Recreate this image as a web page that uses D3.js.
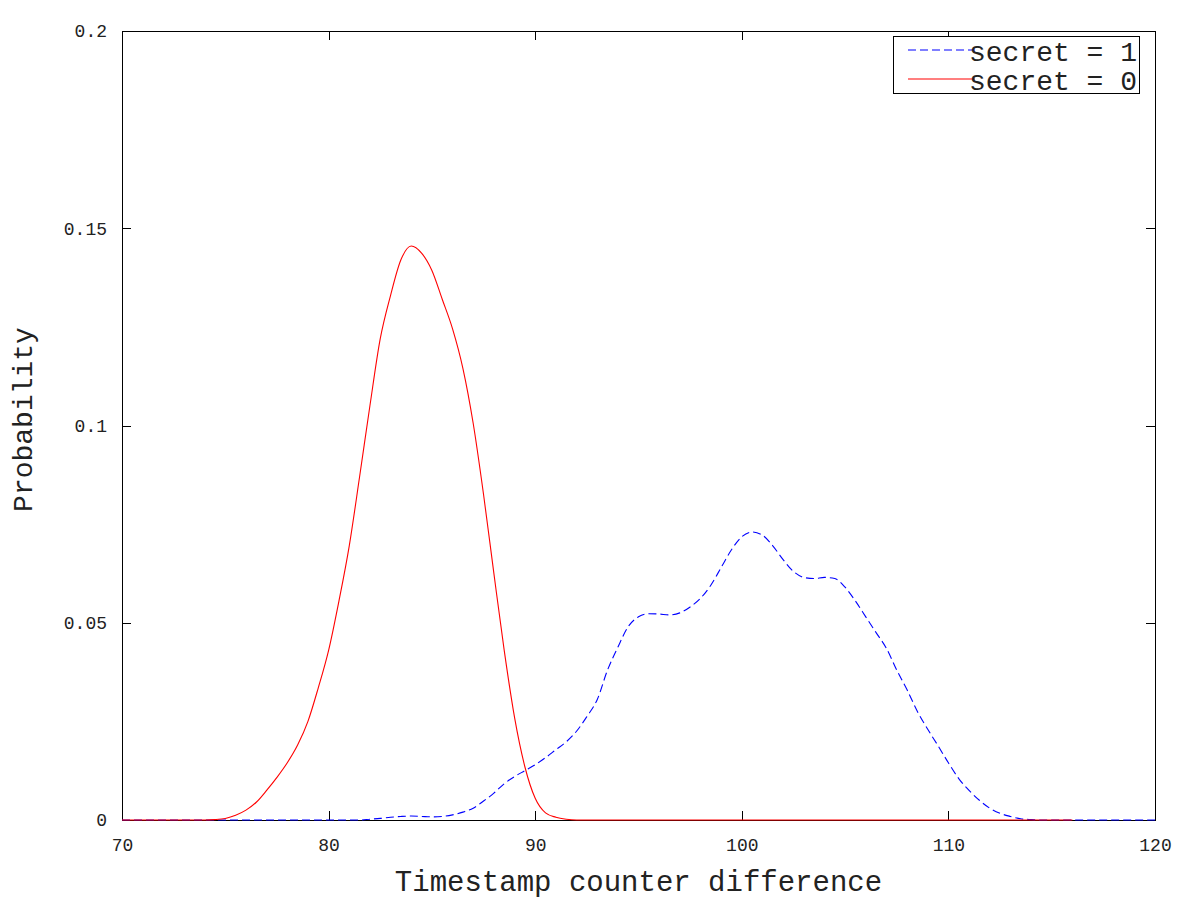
<!DOCTYPE html>
<html>
<head>
<meta charset="utf-8">
<script src="https://cdn.jsdelivr.net/npm/d3@7"></script>
<style>
  html, body { margin: 0; padding: 0; background: #fff; }
  svg { display: block; }
  text { font-family: "Liberation Mono", "Courier New", monospace; fill: #222; }
</style>
</head>
<body>
<script>
// ---- data ----
const xStart = 70, xStep = 0.5;
const secret0 = [
  0,0,0,0,0,0,0,0,0,               // 70 - 74
  0.0001,0.0004,0.0012,0.0025,0.0045,0.0075,0.0108,0.0145,0.019,0.025,0.0335, // 74.5 - 79.5
  0.043,0.0555,0.0695,0.087,0.105,0.122,0.133,0.142,0.1455,0.1437,0.1393,0.132, // 80 - 85.5
  0.1245,0.1145,0.1005,0.0825,0.0625,0.043,0.026,0.0135,0.0055,0.0018,0.0007,0.0002, // 86 - 91.5
  0,0,0,0,0,0,0,0,0,0,0,0,0,0,0,0,0,0,0,0,0,0,0,0,0,0,0,0,0,0,0,0,0,0,0,0,0,0,0,0,0,0,0,0,0,0,0,0,0 // 92 - 120
];
const secret1 = [
  0,0,0,0,0,0,0,0,0,0,0,0,0,0,0,0,0,0,0,0,0,0,0,0,   // 70 - 81.5
  0.0002,0.0004,0.0007,0.0009,0.001,0.0009,0.0008,0.0009,0.0013,0.002,0.003,0.0048, // 82 - 87.5
  0.0068,0.0092,0.011,0.0125,0.014,0.0158,0.0178,0.0198,0.0225,0.0262,0.0305,0.038, // 88 - 93.5
  0.0438,0.049,0.0515,0.0523,0.0522,0.052,0.0525,0.054,0.0562,0.0595,0.064,0.0685, // 94 - 99.5
  0.0718,0.073,0.0722,0.0695,0.066,0.063,0.0615,0.0612,0.0615,0.0612,0.059,0.0555, // 100 - 105.5
  0.0515,0.0475,0.0435,0.038,0.033,0.0275,0.023,0.0188,0.0145,0.0105,0.0075,0.005, // 106 - 111.5
  0.003,0.0017,0.0009,0.0003,0.0001,                                             // 112 - 114
  0,0,0,0,0,0,0,0,0,0,0,0                                                        // 114.5 - 120
];
const xTicks = [70, 80, 90, 100, 110, 120];
const yTicks = [0, 0.05, 0.1, 0.15, 0.2];
const yTickLabels = ["0", "0.05", "0.1", "0.15", "0.2"];
const legendLabels = ["secret = 1", "secret = 0"];
const xLabel = "Timestamp counter difference";
const yLabel = "Probability";

// ---- layout ----
const W = 1200, H = 900;
const L = 122, R = 1155, T = 31, B = 820;

const svg = d3.select("body").append("svg").attr("width", W).attr("height", H);

const x = d3.scaleLinear().domain([70, 120]).range([L, R]);
const y = d3.scaleLinear().domain([0, 0.2]).range([B, T]);

// frame
svg.append("rect").attr("x", L).attr("y", T).attr("width", R - L).attr("height", B - T)
  .attr("fill", "none").attr("stroke", "#000").attr("stroke-width", 1).attr("shape-rendering", "crispEdges");

const tickLen = 9;
// bottom axis (ticks inward)
const xAxis = d3.axisBottom(x).tickValues(xTicks).tickSize(-tickLen).tickPadding(tickLen + 9).tickFormat(d3.format("d"));
const gx = svg.append("g").attr("transform", `translate(0,${B})`).call(xAxis);
// top ticks
const gxt = svg.append("g").attr("transform", `translate(0,${T})`)
  .call(d3.axisTop(x).tickValues(xTicks).tickSize(-tickLen).tickFormat(""));
// left axis
const yAxis = d3.axisLeft(y).tickValues(yTicks).tickSize(-tickLen).tickPadding(tickLen + 6)
  .tickFormat((d, i) => yTickLabels[i]);
const gy = svg.append("g").attr("transform", `translate(${L},0)`).call(yAxis);
// right ticks
const gyr = svg.append("g").attr("transform", `translate(${R},0)`)
  .call(d3.axisRight(y).tickValues(yTicks).tickSize(-tickLen).tickFormat(""));

[gx, gxt, gy, gyr].forEach(g => {
  g.select(".domain").remove();
  g.selectAll(".tick line").attr("stroke", "#000").attr("shape-rendering", "crispEdges");
  g.selectAll(".tick text").attr("font-family", "Liberation Mono").attr("font-size", 18).attr("fill", "#222");
});

// curves
const line = d3.line()
  .x((d, i) => x(xStart + i * xStep))
  .y(d => y(d))
  .curve(d3.curveMonotoneX);

svg.append("path").datum(secret1).attr("d", line)
  .attr("fill", "none").attr("stroke", "#0000ff").attr("stroke-width", 1.1)
  .attr("stroke-dasharray", "8,4");
svg.append("path").datum(secret0).attr("d", line)
  .attr("fill", "none").attr("stroke", "#ff0000").attr("stroke-width", 1.1);

// axis labels
svg.append("text").attr("x", (L + R) / 2).attr("y", 891).attr("text-anchor", "middle")
  .attr("font-size", 29).text(xLabel);
svg.append("text").attr("transform", `translate(32,${(T + B) / 2 - 6}) rotate(-90)`)
  .attr("text-anchor", "middle").attr("font-size", 28).text(yLabel);

// legend
const lg = svg.append("g");
lg.append("rect").attr("x", 893).attr("y", 36.5).attr("width", 246.5).attr("height", 57)
  .attr("fill", "#fff").attr("stroke", "#000").attr("stroke-width", 1).attr("shape-rendering", "crispEdges");
const legendStyles = [
  { color: "#0000ff", dash: "8,4" },
  { color: "#ff0000", dash: null }
];
legendLabels.forEach((lab, i) => {
  const yy = 50 + i * 29;
  lg.append("line").attr("x1", 908).attr("x2", 975).attr("y1", yy).attr("y2", yy)
    .attr("stroke", legendStyles[i].color).attr("stroke-width", 1.1)
    .attr("stroke-dasharray", legendStyles[i].dash);
  lg.append("text").attr("x", 1137).attr("y", yy + 11).attr("text-anchor", "end")
    .attr("font-size", 28).text(lab);
});
</script>
</body>
</html>
